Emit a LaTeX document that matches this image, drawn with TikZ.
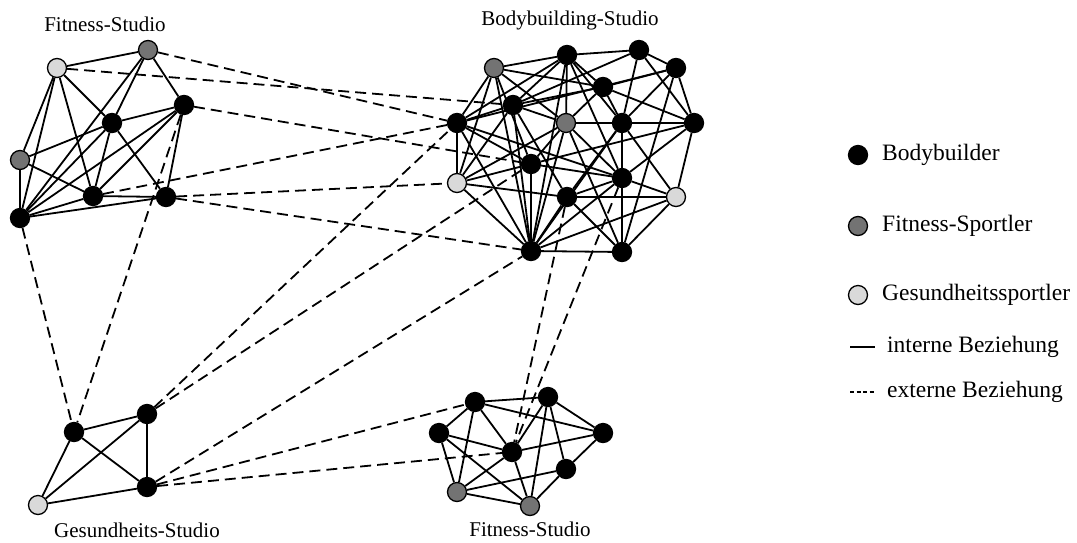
\documentclass[tikz,border=0pt]{standalone}
\usepackage{fontspec}
\setmainfont{Liberation Serif}
\begin{document}
\begin{tikzpicture}[x=1pt,y=-1pt,
  nd/.style={circle,draw=black,line width=1.3pt,minimum size=19pt,inner sep=0pt},
  bb/.style={nd,fill=black},
  fs/.style={nd,fill=black!55},
  gs/.style={nd,fill=black!15},
  int/.style={line width=1.8pt},
  ext/.style={line width=1.8pt,dash pattern=on 11pt off 6pt},
  lbl/.style={font=\fontsize{21}{25}\selectfont,inner sep=0pt},
  leg/.style={font=\fontsize{23.5}{28}\selectfont,inner sep=0pt,anchor=west}]
\useasboundingbox (0,0) rectangle (1077,542);
% cluster A: Fitness-Studio (top left)
\node[gs] (A1) at (57,68) {};
\node[fs] (A2) at (148,50) {};
\node[bb] (A3) at (184,105) {};
\node[bb] (A4) at (112,123) {};
\node[fs] (A5) at (20,160) {};
\node[bb] (A6) at (93,196) {};
\node[bb] (A7) at (166,197) {};
\node[bb] (A8) at (20,218) {};
\node[lbl] (LA) at (105,24) {Fitness-Studio};
% cluster B: Bodybuilding-Studio
\node[fs] (B1) at (494,68) {};
\node[bb] (B2) at (567,55) {};
\node[bb] (B3) at (639,50) {};
\node[bb] (B4) at (676,68) {};
\node[bb] (B5) at (603,87) {};
\node[bb] (B6) at (513,105) {};
\node[bb] (B7) at (457,123) {};
\node[fs] (B8) at (566,123) {};
\node[bb] (B9) at (622,123) {};
\node[bb] (B10) at (694,123) {};
\node[bb] (B11) at (531,164) {};
\node[gs] (B12) at (457,183) {};
\node[bb] (B13) at (622,178) {};
\node[bb] (B14) at (567,197) {};
\node[gs] (B15) at (676,197) {};
\node[bb] (B16) at (531,251) {};
\node[bb] (B17) at (622,252) {};
\node[lbl] (LB) at (570,20) {Bodybuilding-Studio};
% cluster C: Gesundheits-Studio
\node[bb] (C1) at (74,432) {};
\node[bb] (C2) at (147,414) {};
\node[bb] (C3) at (147,487) {};
\node[gs] (C4) at (38,505) {};
\node[lbl] (LC) at (137,530) {Gesundheits-Studio};
% cluster D: Fitness-Studio (bottom)
\node[bb] (D1) at (475,402) {};
\node[bb] (D2) at (548,397) {};
\node[bb] (D3) at (439,433) {};
\node[bb] (D4) at (603,433) {};
\node[bb] (D5) at (512,452) {};
\node[bb] (D6) at (566,469) {};
\node[fs] (D7) at (457,492) {};
\node[fs] (D8) at (530,506) {};
\node[lbl] (LD) at (530,529) {Fitness-Studio};
% internal relations
\foreach \a/\b in {A1/A2,A2/A3,A2/A4,A2/A8,A1/A5,A1/A8,A1/A6,A1/A4,A4/A7,
  A5/A8,A5/A4,A5/A6,A4/A3,A4/A6,A4/A8,A3/A6,A3/A7,A3/A8,A6/A7,A7/A8,A6/A8}
  \draw[int] (\a) -- (\b);
\foreach \a/\b in {B1/B2,B2/B3,B3/B4,B4/B10,B10/B15,B15/B17,B16/B17,B12/B16,B7/B12,B1/B7,
  B1/B5,B1/B8,B1/B11,B1/B16,B1/B12,B2/B5,B2/B6,B2/B7,B2/B8,B2/B16,B2/B9,B2/B13,
  B3/B6,B3/B9,B3/B10,B4/B5,B4/B7,B4/B9,B4/B17,B5/B6,B5/B8,B5/B9,B5/B10,
  B6/B7,B6/B8,B6/B14,B6/B16,B6/B12,B7/B11,B7/B13,B7/B16,B8/B9,B8/B11,B8/B12,
  B8/B16,B8/B13,B8/B17,B9/B10,B9/B13,B9/B14,B9/B15,B9/B16,B10/B11,B10/B13,
  B11/B12,B11/B13,B11/B16,B12/B14,B13/B14,B13/B16,B13/B17,B14/B15,B14/B16,
  B14/B17,B15/B16,B13/B15}
  \draw[int] (\a) -- (\b);
\foreach \a/\b in {C1/C2,C1/C3,C1/C4,C2/C3,C2/C4,C3/C4}
  \draw[int] (\a) -- (\b);
\foreach \a/\b in {D1/D2,D1/D3,D1/D4,D1/D5,D1/D7,D2/D4,D2/D5,D2/D6,D2/D8,D3/D5,
  D3/D7,D3/D8,D5/D4,D5/D7,D5/D8,D6/D4,D6/D7,D6/D8,D7/D8}
  \draw[int] (\a) -- (\b);
% external relations
\foreach \a/\b in {A1/B6,A2/B7,A3/B11,A6/B7,A7/B12,A7/B16,A8/C1,A3/C1,
  C2/B7,C2/B11,C3/B16,C3/D1,C3/D5,B14/D5,B13/D5}
  \draw[ext] (\a) -- (\b);
% legend
\node[bb] (K1) at (858,155) {};
\node[leg] (T1) at (882,155) {Bodybuilder};
\node[fs] (K2) at (858,226) {};
\node[leg] (T2) at (882,226) {Fitness-Sportler};
\node[gs] (K3) at (858,295) {};
\node[leg] (T3) at (882,295) {Gesundheitssportler};
\coordinate (K4a) at (850,347);
\coordinate (K4b) at (875,347);
\draw[int] (K4a) -- (K4b);
\node[leg] (T4) at (887,347) {interne Beziehung};
\coordinate (K5a) at (850,392);
\coordinate (K5b) at (875,392);
\draw[line width=1.8pt,dash pattern=on 4pt off 2.5pt] (K5a) -- (K5b);
\node[leg] (T5) at (887,392) {externe Beziehung};
\end{tikzpicture}
\end{document}
